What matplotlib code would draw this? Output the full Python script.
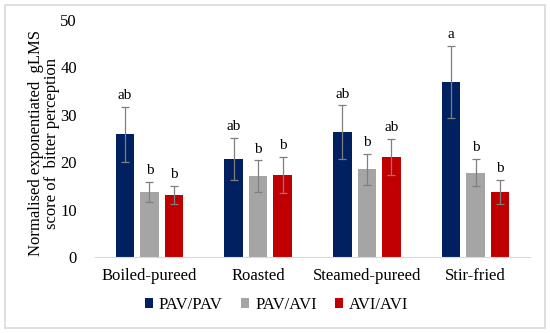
import matplotlib.pyplot as plt
import numpy as np
from matplotlib.patches import FancyBboxPatch

categories = ["Boiled-pureed", "Roasted", "Steamed-pureed", "Stir-fried"]
series = ["PAV/PAV", "PAV/AVI", "AVI/AVI"]
pav_pav = [25.9, 20.7, 26.3, 36.9]
pav_avi = [13.7, 17.1, 18.5, 17.8]
avi_avi = [13.1, 17.3, 21.1, 13.7]
err_pav_pav = [5.8, 4.5, 5.7, 7.6]
err_pav_avi = [2.1, 3.3, 3.3, 2.9]
err_avi_avi = [1.9, 3.8, 3.9, 2.5]
labels_pav_pav = ["ab", "ab", "ab", "a"]
labels_pav_avi = ["b", "b", "b", "b"]
labels_avi_avi = ["b", "b", "ab", "b"]
colors = ["#002060", "#A5A5A5", "#C00000"]

plt.rcParams['font.family'] = ['Liberation Serif', 'DejaVu Serif']
fig = plt.figure(figsize=(5.5, 3.33), dpi=100)
ax = fig.add_axes([95/550, 1-257/333, 435/550, 237/333])

x = np.arange(len(categories))
w = 0.17
step = 0.225
vals = [pav_pav, pav_avi, avi_avi]
errs = [err_pav_pav, err_pav_avi, err_avi_avi]
labs = [labels_pav_pav, labels_pav_avi, labels_avi_avi]
for i, (v, e, l, c, s) in enumerate(zip(vals, errs, labs, colors, series)):
    xs = x + (i - 1) * step
    ax.bar(xs, v, width=w, color=c, label=s, zorder=2)
    ax.errorbar(xs, v, yerr=e, fmt='none', ecolor='#7F7F7F', elinewidth=0.9,
                capsize=3, capthick=0.9, zorder=3)
    for xi, vi, ei, li in zip(xs, v, e, l):
        ax.text(xi, vi + ei + 1.0, li, ha='center', va='bottom', fontsize=11)

ax.set_xlim(-0.5, len(categories) - 0.5)
ax.set_ylim(0, 50)
ax.set_yticks(range(0, 51, 10))
ax.set_xticks(x)
ax.set_xticklabels(categories, fontsize=12)
ax.tick_params(axis='y', labelsize=12, length=0, pad=13)
ax.tick_params(axis='x', length=0, pad=8)
for sp in ['top', 'right', 'left']:
    ax.spines[sp].set_visible(False)
ax.spines['bottom'].set_color('#D9D9D9')
ax.set_ylabel("Normalised exponentiated  gLMS\nscore of  bitter perception", fontsize=12,
              linespacing=1.0, va='center')
ax.yaxis.set_label_coords(-0.118, 0.48)

leg = fig.legend(loc='center', bbox_to_anchor=(0.503, 1-305/333), ncol=3, frameon=False,
                 fontsize=12, handlelength=0.5, handleheight=0.5, handletextpad=0.35,
                 columnspacing=1.1)

border = FancyBboxPatch((5/550, 5/333), 540/550, 323/333, boxstyle="square,pad=0",
                        transform=fig.transFigure, fill=False, edgecolor='#D9D9D9', linewidth=1.2)
fig.patches.append(border)

fig.savefig("out.png", dpi=100)
